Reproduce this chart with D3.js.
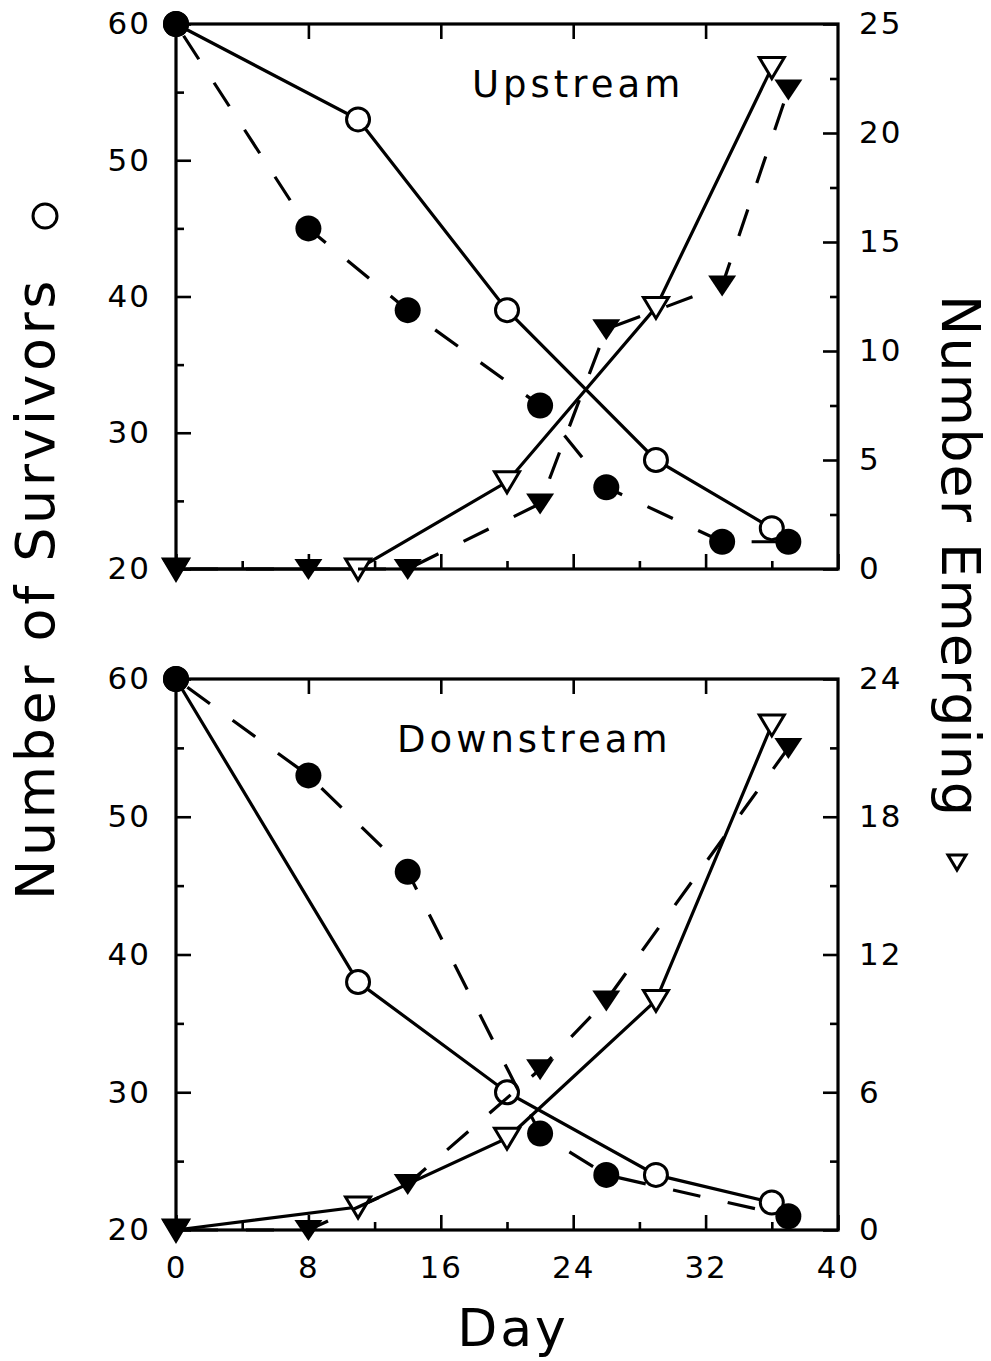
<!DOCTYPE html>
<html>
<head>
<meta charset="utf-8">
<script src="https://cdn.jsdelivr.net/npm/d3@7"></script>
<style>
  body { margin: 0; background: #fff; }
  svg { font-family: "DejaVu Sans", sans-serif; }
  .tick text { font-family: "DejaVu Sans", sans-serif; font-size: 31px; letter-spacing: 2px; fill: #000; }
  .tick line { stroke: #000; stroke-width: 2.6; }
  .domain { display: none; }
</style>
</head>
<body>
<div id="chart"></div>
<script>
// survivors / emerging
var openDays = [0, 11, 20, 29, 36];
var upOpenSurv = [60, 53, 39, 28, 23];
var upOpenEmerg = [0, 0, 4, 12, 23];

var upFilledDays = [0, 8, 14, 22, 26, 33, 37];
var upFilledSurv = [60, 45, 39, 32, 26, 22, 22];
var upFilledEmerg = [0, 0, 0, 3, 11, 13, 22];

var downOpenSurv = [60, 38, 30, 24, 22];
var downOpenEmerg = [0, 1, 4, 10, 22];

var downFilledDays = [0, 8, 14, 22, 26, 37];
var downFilledSurv = [60, 53, 46, 27, 24, 21];
var downFilledEmerg = [0, 0, 2, 7, 10, 21];

var dayTicks = [0, 8, 16, 24, 32, 40];
var dayMinor = [4, 12, 20, 28, 36];
var survTicks = [20, 30, 40, 50, 60];
var survMinor = [25, 35, 45, 55];
var upEmTicks = [0, 5, 10, 15, 20, 25];
var upEmMinor = [2.5, 7.5, 12.5, 17.5, 22.5];
var downEmTicks = [0, 6, 12, 18, 24];
var downEmMinor = [3, 9, 15, 21];

var svgWidth = 991;
var svgHeight = 1361;
var left = 176, right = 838;

var svg = d3.select("#chart")
  .append("svg")
  .attr("width", svgWidth)
  .attr("height", svgHeight);

var x = d3.scaleLinear().domain([0, 40]).range([left, right]);

function zip(days, vals) {
  return days.map(function (d, i) { return [d, vals[i]]; });
}

function triPath(w) {
  return "M" + (-w) + "," + (-10) + "L" + w + "," + (-10) + "L0," + 11 + "Z";
}

function drawPanel(top, bottom, emMax, emTicks, emMinor, opts) {
  var yL = d3.scaleLinear().domain([20, 60]).range([bottom, top]);
  var yR = d3.scaleLinear().domain([0, emMax]).range([bottom, top]);
  var g = svg.append("g");

  // axes, ticks pointing inward
  g.append("g").attr("transform", "translate(" + left + ",0)")
    .call(d3.axisLeft(yL).tickValues(survMinor).tickSizeInner(-8).tickSizeOuter(0).tickFormat(""));
  g.append("g").attr("transform", "translate(" + left + ",0)")
    .call(d3.axisLeft(yL).tickValues(survTicks).tickSizeInner(-15).tickSizeOuter(0).tickPadding(25));

  g.append("g").attr("transform", "translate(" + right + ",0)")
    .call(d3.axisRight(yR).tickValues(emMinor).tickSizeInner(-8).tickSizeOuter(0).tickFormat(""));
  g.append("g").attr("transform", "translate(" + right + ",0)")
    .call(d3.axisRight(yR).tickValues(emTicks).tickSizeInner(-15).tickSizeOuter(0).tickPadding(21));

  g.append("g").attr("transform", "translate(0," + bottom + ")")
    .call(d3.axisBottom(x).tickValues(dayMinor).tickSizeInner(-8).tickSizeOuter(0).tickFormat(""));
  var bx = g.append("g").attr("transform", "translate(0," + bottom + ")")
    .call(d3.axisBottom(x).tickValues(dayTicks).tickSizeInner(-15).tickSizeOuter(0).tickPadding(26));
  if (!opts.xLabels) bx.selectAll("text").remove();

  g.append("g").attr("transform", "translate(0," + top + ")")
    .call(d3.axisTop(x).tickValues(dayTicks.slice(1, 5)).tickSizeInner(-15).tickSizeOuter(0).tickFormat(""));

  g.append("rect")
    .attr("x", left).attr("y", top)
    .attr("width", right - left).attr("height", bottom - top)
    .attr("fill", "none").attr("stroke", "#000").attr("stroke-width", 3.2);

  var lineL = d3.line().x(d => x(d[0])).y(d => yL(d[1]));
  var lineR = d3.line().x(d => x(d[0])).y(d => yR(d[1]));

  var openS = zip(openDays, opts.openSurv);
  var openE = zip(openDays, opts.openEmerg);
  var filS = zip(opts.filledDays, opts.filledSurv);
  var filE = zip(opts.filledDays, opts.filledEmerg);

  // solid lines
  [[openS, lineL], [openE, lineR]].forEach(function (p) {
    g.append("path").datum(p[0]).attr("d", p[1])
      .attr("fill", "none").attr("stroke", "#000").attr("stroke-width", 3.2);
  });

  // open markers
  g.selectAll(null).data(openS).enter().append("circle")
    .attr("cx", d => x(d[0])).attr("cy", d => yL(d[1])).attr("r", 11.5)
    .attr("fill", "#fff").attr("stroke", "#000").attr("stroke-width", 3);
  g.selectAll(null).data(openE).enter().append("path")
    .attr("transform", d => "translate(" + x(d[0]) + "," + yR(d[1]) + ")")
    .attr("d", triPath(12.5))
    .attr("fill", "#fff").attr("stroke", "#000").attr("stroke-width", 3)
    .attr("stroke-linejoin", "miter");

  // dashed lines
  [[filS, lineL], [filE, lineR]].forEach(function (p) {
    g.append("path").datum(p[0]).attr("d", p[1])
      .attr("fill", "none").attr("stroke", "#000").attr("stroke-width", 3.2)
      .attr("stroke-dasharray", "28,28").attr("stroke-dashoffset", -14);
  });

  // filled markers
  g.selectAll(null).data(filS).enter().append("circle")
    .attr("cx", d => x(d[0])).attr("cy", d => yL(d[1])).attr("r", 13)
    .attr("fill", "#000");
  g.selectAll(null).data(filE).enter().append("path")
    .attr("transform", d => "translate(" + x(d[0]) + "," + yR(d[1]) + ")")
    .attr("d", triPath(14))
    .attr("fill", "#000");

  g.append("text")
    .attr("x", opts.labelX).attr("y", opts.labelY)
    .attr("font-size", 37).attr("letter-spacing", 4)
    .text(opts.label);
}

drawPanel(24, 569, 25, upEmTicks, upEmMinor, {
  openSurv: upOpenSurv, openEmerg: upOpenEmerg,
  filledDays: upFilledDays, filledSurv: upFilledSurv, filledEmerg: upFilledEmerg,
  label: "Upstream", labelX: 472, labelY: 97, xLabels: false
});

drawPanel(679, 1230, 24, downEmTicks, downEmMinor, {
  openSurv: downOpenSurv, openEmerg: downOpenEmerg,
  filledDays: downFilledDays, filledSurv: downFilledSurv, filledEmerg: downFilledEmerg,
  label: "Downstream", labelX: 397, labelY: 752, xLabels: true
});

// axis titles
svg.append("text")
  .attr("transform", "translate(54,900) rotate(-90)")
  .attr("font-size", 54).attr("letter-spacing", 3.5)
  .text("Number of Survivors");
svg.append("circle")
  .attr("cx", 45).attr("cy", 216).attr("r", 12)
  .attr("fill", "none").attr("stroke", "#000").attr("stroke-width", 3);

svg.append("text")
  .attr("transform", "translate(942,295) rotate(90)")
  .attr("font-size", 54).attr("letter-spacing", 2)
  .text("Number Emerging");
svg.append("path")
  .attr("transform", "translate(957,862)")
  .attr("d", "M-9,-7L9,-7L0,8Z")
  .attr("fill", "none").attr("stroke", "#000").attr("stroke-width", 3);

svg.append("text")
  .attr("x", 513).attr("y", 1346)
  .attr("text-anchor", "middle")
  .attr("font-size", 52).attr("letter-spacing", 3)
  .text("Day");
</script>
</body>
</html>
